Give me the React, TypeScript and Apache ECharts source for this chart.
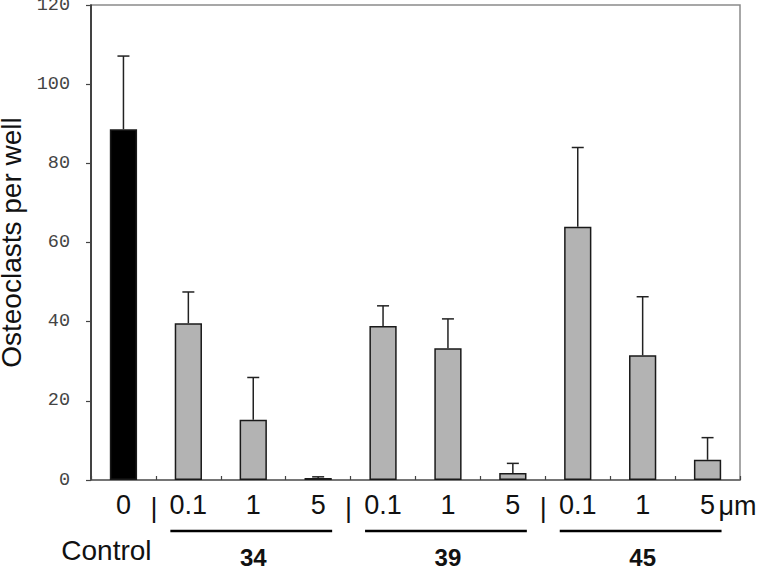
import React, { useEffect, useRef } from "react";
import * as echarts from "echarts";

// ---- data ----
const categories = ["0", "0.1", "1", "5", "0.1", "1", "5", "0.1", "1", "5"];
const means = [88.6, 39.6, 15.2, 0.5, 38.9, 33.3, 1.8, 64.0, 31.5, 5.1];
const errors = [18.5, 7.9, 10.7, 0.3, 5.1, 7.4, 2.4, 20.0, 14.8, 5.6];
const controlIndex = 0;
const yMin = 0;
const yMax = 120;
const yInterval = 20;
const yTitle = "Osteoclasts per well";
const controlLabel = "Control";
const unitLabel = "\u03bcm";
const separatorBefore = [1, 4, 7];
const groupLabels = ["34", "39", "45"];
const groupFirst = [1, 4, 7];
const groupLast = [3, 6, 9];

const SANS = "'Liberation Sans', Arial, sans-serif";

export default function App() {
  const ref = useRef<HTMLDivElement>(null);
  useEffect(() => {
    document.body.style.margin = "0";
    if (!ref.current) return;
    const chart = echarts.init(ref.current, null, { renderer: "svg" });
    chart.setOption({
      animation: false,
      backgroundColor: "#ffffff",
      grid: {
        left: 91,
        right: 23,
        top: 5,
        bottom: 90,
        containLabel: false,
        outerBoundsMode: "none",
        show: true,
        borderColor: "#8a8a8a",
        borderWidth: 1.5,
        backgroundColor: "transparent",
      },
      xAxis: {
        type: "category",
        data: categories,
        boundaryGap: true,
        axisLine: { lineStyle: { color: "#666", width: 1.5 } },
        axisTick: { show: true, inside: true, length: 4, lineStyle: { color: "#444", width: 1.2 } },
        axisLabel: {
          fontFamily: SANS,
          fontSize: 27,
          color: "#111",
          margin: 11,
          interval: 0,
        },
        splitLine: { show: false },
      },
      yAxis: {
        type: "value",
        min: yMin,
        max: yMax,
        interval: yInterval,
        name: yTitle,
        nameLocation: "middle",
        nameGap: 57,
        nameTextStyle: { fontFamily: SANS, fontSize: 28, color: "#111" },
        axisLine: { show: true, lineStyle: { color: "#222", width: 1.5 } },
        axisTick: { show: true, inside: false, length: 5, lineStyle: { color: "#444", width: 1.2 } },
        axisLabel: {
          fontFamily: "'Liberation Mono', 'DejaVu Sans Mono', monospace",
          fontSize: 18.5,
          color: "#444",
          margin: 21,
        },
        splitLine: { show: false },
      },
      series: [
        {
          type: "bar",
          barWidth: "42%",
          data: means.map((v, i) => ({
            value: v,
            itemStyle: {
              color: i === controlIndex ? "#000000" : "#b3b3b3",
              borderColor: "#1a1a1a",
              borderWidth: 1.5,
            },
          })),
        },
        {
          type: "custom",
          z: 5,
          encode: { x: 0, y: 1 },
          data: means.map((m, i) => [i, m, errors[i]]),
          renderItem: (params: any, api: any) => {
            const i = api.value(0);
            const m = api.value(1);
            const e = api.value(2);
            const base = api.coord([i, m]);
            const top = api.coord([i, m + e]);
            const half = 6;
            return {
              type: "group",
              children: [
                {
                  type: "line",
                  shape: { x1: base[0], y1: base[1], x2: top[0], y2: top[1] },
                  style: { stroke: "#222", lineWidth: 1.5 },
                },
                {
                  type: "line",
                  shape: { x1: top[0] - half, y1: top[1], x2: top[0] + half, y2: top[1] },
                  style: { stroke: "#222", lineWidth: 1.5 },
                },
              ],
            };
          },
        },
      ],
    });

    const px = (i: number) => chart.convertToPixel({ gridIndex: 0 }, [i, 0]) as number[];
    const yBase = px(0)[1];
    const graphics: any[] = [];
    separatorBefore.forEach((k) => {
      const x = (px(k - 1)[0] + px(k)[0]) / 2 - 2;
      graphics.push({
        type: "text",
        x,
        y: yBase + 28,
        style: {
          text: "|",
          font: `27px ${SANS}`,
          fill: "#111",
          align: "center",
          verticalAlign: "middle",
        },
      });
    });
    const last = categories.length - 1;
    graphics.push({
      type: "text",
      x: px(last)[0] + 11,
      y: yBase + 26,
      style: { text: unitLabel, font: `27px ${SANS}`, fill: "#111", align: "left", verticalAlign: "middle" },
    });
    graphics.push({
      type: "text",
      x: px(controlIndex)[0] - 17,
      y: yBase + 70,
      style: { text: controlLabel, font: `28px ${SANS}`, fill: "#111", align: "center", verticalAlign: "middle" },
    });
    groupLabels.forEach((lab, g) => {
      const x1 = px(groupFirst[g])[0] - 18;
      const x2 = px(groupLast[g])[0] + 14;
      graphics.push({
        type: "line",
        shape: { x1, y1: yBase + 51, x2, y2: yBase + 51 },
        style: { stroke: "#000", lineWidth: 2.5 },
      });
      const mid = Math.round((groupFirst[g] + groupLast[g]) / 2);
      graphics.push({
        type: "text",
        x: px(mid)[0],
        y: yBase + 77,
        style: { text: lab, font: `bold 24px ${SANS}`, fill: "#111", align: "center", verticalAlign: "middle" },
      });
    });
    chart.setOption({ graphic: graphics });

    return () => chart.dispose();
  }, []);
  return <div ref={ref} style={{ width: 763, height: 570 }} />;
}
